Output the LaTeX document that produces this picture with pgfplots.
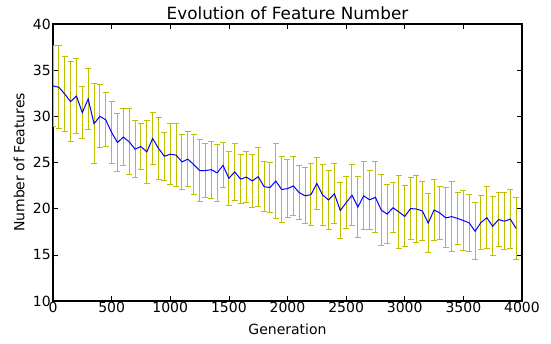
\documentclass[border=0pt]{standalone}
\usepackage{fontspec}
\setmainfont{DejaVu Sans}
\usepackage{pgfplots}
\usepackage{pgfplotstable}
\pgfplotsset{compat=1.18}
\definecolor{ecol}{rgb}{0.75,0.75,0}
\pgfplotstableread{
x y e
0 33.29 4.42
50 33.15 4.51
100 32.42 4.02
150 31.59 4.31
200 32.20 4.06
250 30.40 2.81
300 31.88 3.30
350 29.20 4.33
400 30.00 3.41
450 29.62 2.93
500 28.25 3.37
550 27.17 3.13
600 27.75 3.10
650 27.24 3.57
700 26.44 3.10
750 26.73 2.45
800 26.15 3.42
850 27.60 2.77
900 26.52 3.37
950 25.68 2.61
1000 25.90 3.30
1050 25.80 3.42
1100 25.07 2.95
1150 25.36 3.00
1200 24.78 3.28
1250 24.13 3.35
1300 24.13 2.90
1350 24.22 3.10
1400 23.88 3.05
1450 24.69 2.45
1500 23.29 2.90
1550 23.98 3.08
1600 23.20 2.66
1650 23.42 2.74
1700 23.00 2.86
1750 23.47 3.19
1800 22.39 2.72
1850 22.28 2.72
1900 22.99 4.08
1950 22.08 3.53
2000 22.17 3.15
2050 22.46 3.15
2100 21.74 2.93
2150 21.39 3.03
2200 21.52 3.33
2250 22.73 2.84
2300 21.48 3.30
2350 20.94 3.19
2400 21.61 3.24
2450 19.80 2.99
2500 20.65 2.83
2550 21.45 3.30
2600 20.18 3.30
2650 21.39 3.68
2700 20.96 3.17
2750 21.23 3.84
2800 19.83 3.82
2850 19.42 3.22
2900 20.10 2.72
2950 19.65 3.97
3000 19.16 3.30
3050 20.01 3.35
3100 19.96 3.59
3150 19.76 3.17
3200 18.44 3.15
3250 19.85 3.26
3300 19.53 2.86
3350 19.00 3.24
3400 19.14 3.75
3450 18.95 2.79
3500 18.71 3.24
3550 18.46 3.06
3600 17.55 3.10
3650 18.50 2.92
3700 19.02 3.33
3750 18.09 3.21
3800 18.82 2.92
3850 18.64 3.10
3900 18.87 3.22
3950 17.86 3.33
}\datatable
\begin{document}
\begin{tikzpicture}
\begin{axis}[
  scale only axis,
  width=469pt, height=277pt,
  xmin=0, xmax=4000, ymin=10, ymax=40,
  xtick={0,500,...,4000},
  ytick={10,15,...,40},
  tick align=inside,
  major tick length=5pt,
  minor tick num=0,
  axis line style={line width=1.1pt},
  every tick/.style={black, line width=0.6pt},
  /pgf/number format/assume math mode=true,
  /pgf/number format/1000 sep={},
  ticklabel style={font=\fontsize{14}{16}\selectfont},
  xticklabel style={inner sep=1pt},
  yticklabel style={inner sep=2pt},
  title={Evolution of Feature Number},
  title style={font=\fontsize{16.8}{19}\selectfont, yshift=-5pt},
  xlabel={Generation},
  ylabel={Number of Features},
  label style={font=\fontsize{14}{16}\selectfont},
  xlabel style={yshift=-7pt},
  ylabel style={yshift=3pt},
]
\addplot[draw=none, mark=none, forget plot,
  error bars/.cd, y dir=both, y explicit,
  error bar style={ecol, line width=1pt},
  error mark options={ecol, line width=1pt, mark size=3pt, rotate=90}]
  table[x=x, y=y, y error=e] {\datatable};
\addplot[blue, line width=1pt, mark=none] table[x=x, y=y] {\datatable};
\end{axis}
\pgfresetboundingbox
\path (current axis.south west) +(-53pt,-42pt) (current axis.north east) +(29pt,24pt);
\end{tikzpicture}
\end{document}
